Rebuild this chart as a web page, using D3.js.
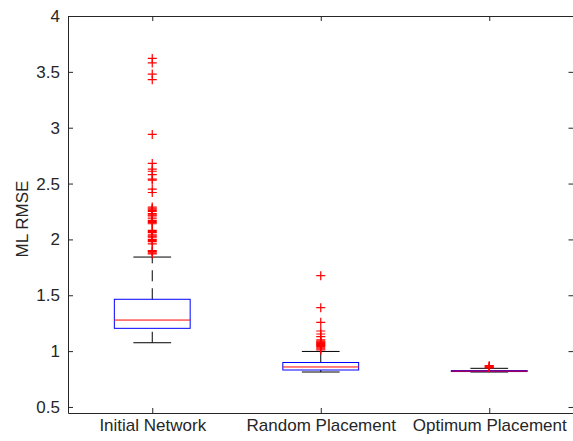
<!DOCTYPE html>
<html>
<head>
<meta charset="utf-8">
<script src="https://cdn.jsdelivr.net/npm/d3@7"></script>
<style>
  body { margin: 0; background: #fff; }
  svg { display: block; font-family: "Liberation Sans", Arial, sans-serif; }
  .axis text { font-size: 17px; fill: #262626; }
  .axis line, .axis path { stroke: #262626; }
</style>
</head>
<body>
<script>
(function(){

//group names on the x axis
var categories = ["Initial Network", "Random Placement", "Optimum Placement"];

//box statistics
var q1Values = [1.204, 0.831, 0.817];
var medianValues = [1.278, 0.858, 0.821];
var q3Values = [1.464, 0.898, 0.826];
var lowerWhisker = [1.075, 0.813, 0.813];
var upperWhisker = [1.842, 0.997, 0.846];

//outliers for each group
var outliersInitial = [3.62, 3.58, 3.48, 3.43, 2.94, 2.68, 2.63, 2.61, 2.58, 2.54, 2.53, 2.45, 2.42,
  2.29, 2.28, 2.27, 2.26, 2.25, 2.23, 2.22, 2.21, 2.19, 2.17, 2.16, 2.15, 2.14, 2.08, 2.07, 2.06,
  2.04, 2.03, 2.02, 2.00, 1.99, 1.98, 1.96, 1.90, 1.89, 1.88, 1.87];
var outliersRandom = [1.675, 1.389, 1.258, 1.18, 1.153, 1.129, 1.10, 1.09, 1.08, 1.075, 1.07,
  1.06, 1.055, 1.05, 1.04, 1.03, 1.02, 1.01];
var outliersOptimum = [0.85, 0.855, 0.86, 0.865, 0.87];

//y tick values
var yTicks = [0.5, 1, 1.5, 2, 2.5, 3, 3.5, 4];

window.onload = drawChart();

function drawChart(){
    var width = 573,
        height = 441,
        left = 68,
        right = 573.5,
        top = 16,
        bottom = 413;

    var svg = d3.select("body")
        .append("svg")
        .attr("width", width)
        .attr("height", height);

    //scales
    var x = d3.scaleLinear()
        .domain([0.5, 3.5])
        .range([left, right]);
    var y = d3.scaleLinear()
        .domain([0.446, 4])
        .range([bottom, top]);

    //build rows from the arrays
    var outlierLists = [outliersInitial, outliersRandom, outliersOptimum];
    var boxes = categories.map(function(c, i){
        return {
            pos: i + 1,
            q1: q1Values[i],
            med: medianValues[i],
            q3: q3Values[i],
            lo: lowerWhisker[i],
            hi: upperWhisker[i],
            out: outlierLists[i]
        };
    });

    var halfBox = 0.225,
        halfCap = 0.112;

    var g = svg.append("g").attr("class", "boxes");

    //dashed whiskers
    g.selectAll(".whiskerUp")
        .data(boxes)
        .enter()
        .append("line")
        .attr("x1", function(d){ return x(d.pos); })
        .attr("x2", function(d){ return x(d.pos); })
        .attr("y1", function(d){ return y(d.q3); })
        .attr("y2", function(d){ return y(d.hi); })
        .attr("stroke", "#000")
        .attr("stroke-dasharray", "11,7");
    g.selectAll(".whiskerDown")
        .data(boxes)
        .enter()
        .append("line")
        .attr("x1", function(d){ return x(d.pos); })
        .attr("x2", function(d){ return x(d.pos); })
        .attr("y1", function(d){ return y(d.lo); })
        .attr("y2", function(d){ return y(d.q1); })
        .attr("stroke", "#000")
        .attr("stroke-dasharray", "11,7");

    //whisker caps
    ["hi", "lo"].forEach(function(k){
        g.selectAll(".cap-" + k)
            .data(boxes)
            .enter()
            .append("line")
            .attr("x1", function(d){ return x(d.pos - halfCap); })
            .attr("x2", function(d){ return x(d.pos + halfCap); })
            .attr("y1", function(d){ return y(d[k]); })
            .attr("y2", function(d){ return y(d[k]); })
            .attr("stroke", "#000");
    });

    //boxes
    g.selectAll(".box")
        .data(boxes)
        .enter()
        .append("rect")
        .attr("x", function(d){ return x(d.pos - halfBox); })
        .attr("width", function(d){ return x(d.pos + halfBox) - x(d.pos - halfBox); })
        .attr("y", function(d){ return y(d.q3); })
        .attr("height", function(d){ return Math.max(y(d.q1) - y(d.q3), 1); })
        .attr("fill", "none")
        .attr("stroke", "#0000ff");

    //medians
    g.selectAll(".median")
        .data(boxes)
        .enter()
        .append("line")
        .attr("x1", function(d){ return x(d.pos - halfBox); })
        .attr("x2", function(d){ return x(d.pos + halfBox); })
        .attr("y1", function(d){ return y(d.med); })
        .attr("y2", function(d){ return y(d.med); })
        .attr("stroke", "#ff0000");

    //outliers drawn as red plus signs
    var pts = [];
    boxes.forEach(function(b){
        b.out.forEach(function(v){ pts.push({pos: b.pos, v: v}); });
    });
    g.selectAll(".outlier")
        .data(pts)
        .enter()
        .append("path")
        .attr("transform", function(d){
            return "translate(" + x(d.pos) + "," + y(d.v) + ")";
        })
        .attr("d", "M-4.5,0H4.5M0,-4.5V4.5")
        .attr("stroke", "#ff0000")
        .attr("stroke-width", 1.2)
        .attr("fill", "none");

    //axes, ticks point inward like matlab
    svg.append("g")
        .attr("class", "axis")
        .attr("transform", "translate(" + left + ",0)")
        .call(d3.axisLeft(y).tickValues(yTicks).tickSize(-5).tickSizeOuter(0).tickPadding(8)
            .tickFormat(d3.format("")));
    svg.append("g")
        .attr("class", "axis")
        .attr("transform", "translate(" + right + ",0)")
        .call(d3.axisRight(y).tickValues(yTicks).tickSize(-5).tickSizeOuter(0).tickFormat(""));
    svg.append("g")
        .attr("class", "axis")
        .attr("transform", "translate(0," + bottom + ")")
        .call(d3.axisBottom(x).tickValues([1, 2, 3]).tickSize(-5).tickSizeOuter(0).tickPadding(6)
            .tickFormat(function(d){ return categories[d - 1]; }));
    svg.append("g")
        .attr("class", "axis")
        .attr("transform", "translate(0," + top + ")")
        .call(d3.axisTop(x).tickValues([1, 2, 3]).tickSize(-5).tickSizeOuter(0).tickFormat(""));

    //y axis title
    svg.append("text")
        .attr("transform", "translate(28,219) rotate(-90)")
        .attr("text-anchor", "middle")
        .style("font-size", "17px")
        .style("fill", "#262626")
        .text("ML RMSE");
};
})();
</script>
</body>
</html>
